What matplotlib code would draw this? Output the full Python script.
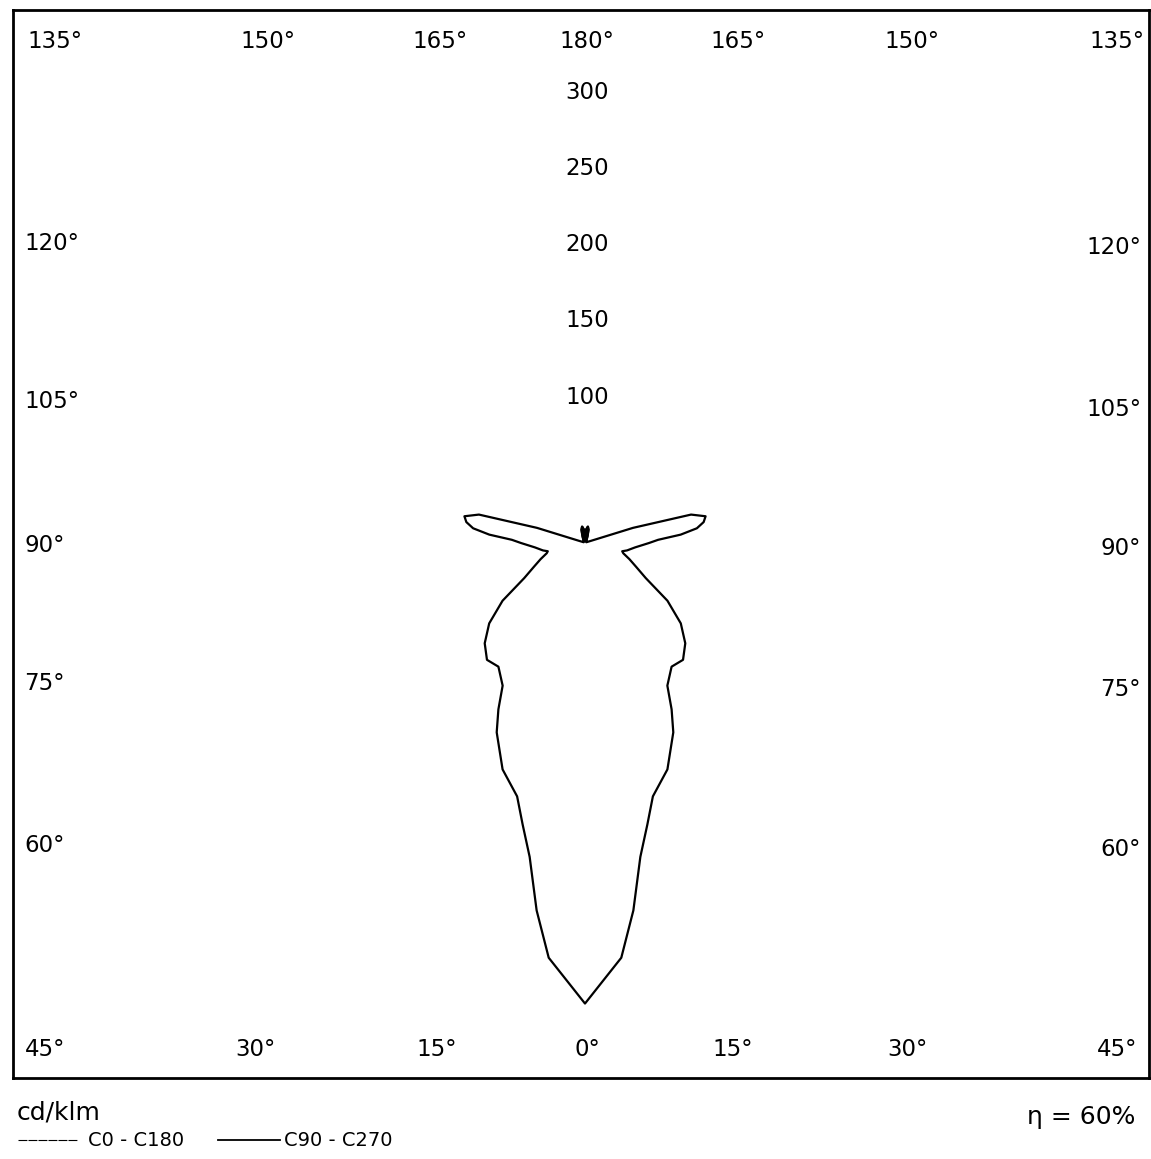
import numpy as np
import matplotlib.pyplot as plt
from matplotlib.lines import Line2D

# light distribution, C90 - C270 half profile (gamma in deg, cd/klm)
gamma = [0, 5, 7.5, 10, 12.5, 15, 20, 25, 27.5, 30, 35, 40, 45, 50, 55, 60, 65, 70,
         75, 77.5, 80, 85, 90, 92.5, 95, 97.5, 100, 102.5, 105, 107.5, 110, 120,
         130, 140, 150, 160, 165, 170, 175, 180]
intensity = [302, 273, 243, 209, 189, 172, 158, 137, 123, 108, 99, 100, 93, 82, 66, 46, 37, 31,
             26, 25, 28, 33, 42, 48, 63, 74, 79, 81, 72, 33, 4, 1,
             1, 1, 2, 5, 9, 11, 9, 8]

radial_ticks = [100, 150, 200, 250, 300]
unit_label = 'cd/klm'
efficiency = 'η = 60%'
legend_labels = ['C0 - C180', 'C90 - C270']

W, H = 1151, 1159
fig = plt.figure(figsize=(W / 100, H / 100), dpi=100)

# frame in pixels, origin of the diagram and pixels per cd/klm
left, right, top, bottom = 13, 1149, 10, 1078
ox, oy, s = 585, 543, 1.525
ax = fig.add_axes([left / W, 1 - bottom / H, (right - left) / W, (bottom - top) / H])
ax.set_xlim((left - ox) / s, (right - ox) / s)
ax.set_ylim(-(bottom - oy) / s, (oy - top) / s)
ax.set_xticks([])
ax.set_yticks([])
for sp in ax.spines.values():
    sp.set_linewidth(2)

g = np.radians(gamma)
I = np.array(intensity)
# right half (C90) from 180 down to 0, then left half (C270) 0 up to 180
x = np.concatenate([(I * np.sin(g))[::-1], -I * np.sin(g)])
y = np.concatenate([(-I * np.cos(g))[::-1], -I * np.cos(g)])
ax.plot(x, y, color='black', lw=1.6)
# small back lobe drawn heavy like the reference
back = np.array(gamma) >= 150
ax.fill(np.concatenate([(I * np.sin(g))[back], (-I * np.sin(g))[back][::-1]]),
        np.concatenate([(-I * np.cos(g))[back], (-I * np.cos(g))[back][::-1]]),
        color='black', lw=1.5)

fs = 16.5
for v in radial_ticks:
    ax.text(1.3, v - 4.3, str(v), ha='center', va='center', fontsize=fs)


def ptext(px, py, t, ha='center', **kw):
    fig.text(px / W, 1 - py / H, t, ha=ha, va='center', **kw)


top_labels = ['135°', '150°', '165°', '180°', '165°', '150°', '135°']
top_x = [55, 268, 440, 587, 738, 912, 1117]
for t, px in zip(top_labels, top_x):
    ptext(px, 42, t, fontsize=fs)

bottom_labels = ['45°', '30°', '15°', '0°', '15°', '30°', '45°']
bottom_x = [45, 255, 437, 587, 733, 907, 1117]
for t, px in zip(bottom_labels, bottom_x):
    ptext(px, 1050, t, fontsize=fs)

side_labels = ['120°', '105°', '90°', '75°', '60°']
left_y = [244, 402, 545, 683, 845]
right_y = [247, 409, 548, 690, 850]
for t, py in zip(side_labels, left_y):
    ptext(24, py, t, ha='left', fontsize=fs)
for t, py in zip(side_labels, right_y):
    ptext(1141, py, t, ha='right', fontsize=fs)

ptext(17, 1112, unit_label, ha='left', fontsize=18)
ptext(1135, 1117, efficiency, ha='right', fontsize=18)

fig.add_artist(Line2D([18 / W, 78 / W], [1 - 1140 / H] * 2, color='black', lw=0.8,
                      linestyle=(0, (8, 1))))
ptext(88, 1141, legend_labels[0], ha='left', fontsize=14)
fig.add_artist(Line2D([218 / W, 280 / W], [1 - 1140 / H] * 2, color='black', lw=1.3))
ptext(284, 1141, legend_labels[1], ha='left', fontsize=14)

fig.savefig('out.png', dpi=100)
